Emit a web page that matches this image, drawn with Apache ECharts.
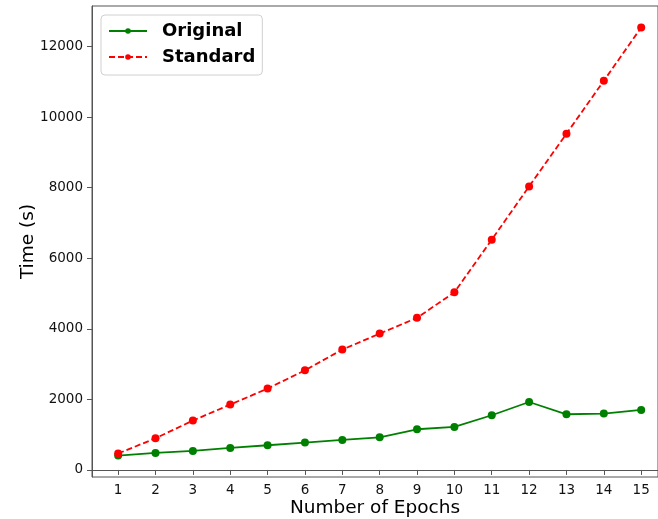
<!DOCTYPE html>
<html>
<head>
<meta charset="utf-8">
<script src="https://cdn.jsdelivr.net/npm/echarts@6/dist/echarts.min.js"></script>
<style>html,body{margin:0;padding:0;background:#fff}#c{width:658px;height:519px}</style>
</head>
<body>
<div id="c"></div>
<script>
const epochs = [1,2,3,4,5,6,7,8,9,10,11,12,13,14,15];
const original = [408,482,538,623,700,776,850,926,1153,1218,1550,1926,1578,1598,1700];
const standard = [465,898,1399,1853,2306,2824,3411,3864,4312,5034,6527,8037,9530,11031,12541];
const yTicks = [0,2000,4000,6000,8000,10000,12000];

const font = 'DejaVu Sans';
const chart = echarts.init(document.getElementById('c'));
chart.setOption({
  animation: false,
  backgroundColor: '#fff',
  grid: {left: 92, top: 6, right: 0, bottom: 42, outerBoundsMode: 'none', containLabel: false,
         show: true, borderColor: '#555', borderWidth: 1, backgroundColor: 'transparent'},
  legend: {
    left: 101, top: 15, orient: 'vertical',
    padding: [6, 7, 8, 7], itemGap: 6,
    itemWidth: 38, itemHeight: 7,
    borderColor: '#d0d0d0', borderWidth: 1, borderRadius: 4,
    backgroundColor: '#fff',
    textStyle: {fontFamily: font, fontSize: 18, fontWeight: 'bold', color: '#000', lineHeight: 20, padding: [0,0,0,10]},
    data: ['Original', 'Standard']
  },
  xAxis: {
    type: 'value', min: 0.3, max: 15.45,
    name: 'Number of Epochs', nameLocation: 'middle', nameGap: 22, nameMoveOverlap: false,
    nameTextStyle: {fontFamily: font, fontSize: 18.5, color: '#000'},
    splitLine: {show: false},
    axisLine: {show: true, lineStyle: {color: '#555'}},
    axisTick: {show: true, length: 5, lineStyle: {color: '#555'}, customValues: epochs},
    axisLabel: {fontFamily: font, fontSize: 13.5, color: '#111', margin: 6, customValues: epochs}
  },
  yAxis: {
    type: 'value', min: -200, max: 13150,
    name: 'Time (s)', nameLocation: 'middle', nameGap: 54, nameRotate: 90, nameMoveOverlap: false,
    nameTextStyle: {fontFamily: font, fontSize: 18.5, color: '#000'},
    splitLine: {show: false},
    axisLine: {show: true, lineStyle: {color: '#555'}},
    axisTick: {show: true, length: 5, lineStyle: {color: '#555'}, customValues: yTicks},
    axisLabel: {fontFamily: font, fontSize: 13.5, color: '#111', margin: 9, customValues: yTicks,
                formatter: v => String(v)}
  },
  series: [
    {
      name: 'Original', type: 'line',
      data: epochs.map((e, i) => [e, original[i]]),
      symbol: 'circle', symbolSize: 8,
      lineStyle: {color: '#008000', width: 1.8},
      itemStyle: {color: '#008000'},
      z: 3
    },
    {
      name: 'Standard', type: 'line',
      data: epochs.map((e, i) => [e, standard[i]]),
      symbol: 'circle', symbolSize: 8,
      lineStyle: {color: '#ff0000', width: 1.8, type: [6, 3]},
      itemStyle: {color: '#ff0000'},
      z: 4
    }
  ]
});
</script>
</body>
</html>
